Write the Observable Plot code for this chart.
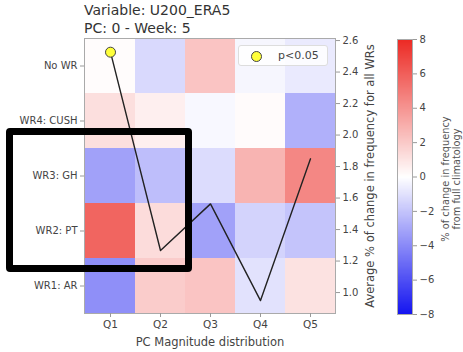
<!DOCTYPE html>
<html>
<head>
<meta charset="utf-8">
<script src="https://cdn.jsdelivr.net/npm/d3@7"></script>
<script src="https://cdn.jsdelivr.net/npm/@observablehq/plot@0.6"></script>
<style>
  html, body { margin: 0; padding: 0; background: #fff; }
  #wrap { position: relative; width: 463px; height: 352px; overflow: hidden; font-family: "DejaVu Sans", sans-serif; }
  #wrap > svg, #wrap > .layer { position: absolute; left: 0; top: 0; }
  .title { position: absolute; left: 84px; font-size: 14px; color: #333; white-space: nowrap; line-height: 1; }
  .legend { position: absolute; left: 238px; top: 45px; width: 90px; height: 21px; box-sizing: border-box;
            border: 1px solid #ddd; border-radius: 3px; background: rgba(255,255,255,0.85); }
  .legend .dot { position: absolute; left: 12px; top: 5px; width: 9px; height: 9px; border-radius: 50%;
                 background: #ffff3a; border: 1px solid #444; }
  .legend .lab { position: absolute; left: 39px; top: 3px; font-size: 11px; color: #444; }
  .box { position: absolute; left: 6px; top: 128px; width: 186px; height: 144px; box-sizing: border-box;
         border: 7px solid #000; border-radius: 4px; pointer-events: none; }
</style>
</head>
<body>
<div id="wrap">
  <div class="title" style="top:3px">Variable: U200_ERA5</div>
  <div class="title" style="top:21px">PC: 0 - Week: 5</div>
</div>
<script>
// ---- data ----
const quantiles = ["Q1", "Q2", "Q3", "Q4", "Q5"];
const regimes = ["No WR", "WR4: CUSH", "WR3: GH", "WR2: PT", "WR1: AR"];
// % change in frequency from full climatology, per regime across Q1..Q5
const noWR   = [0.1, -1.3, 2.2, -0.3, -0.7];
const wr4    = [1.2, 0.6, -0.25, 0.15, -2.7];
const wr3    = [-3.2, -2.2, -1.2, 2.8, 4.5];
const wr2    = [5.8, 1.3, -3.2, -1.5, -2.0];
const wr1    = [-3.8, 1.9, 2.2, -1.0, 1.1];
// average % change in frequency for all WRs (line, right axis)
const avgChange = [2.526, 1.267, 1.563, 0.949, 1.849];
const significant = [true, false, false, false, false];
const rightTicks = [1.0, 1.2, 1.4, 1.6, 1.8, 2.0, 2.2, 2.4, 2.6];
const cbarTicks = [-8, -6, -4, -2, 0, 2, 4, 6, 8];

const rowValues = [noWR, wr4, wr3, wr2, wr1];
const cells = [];
regimes.forEach((r, i) => quantiles.forEach((q, j) => cells.push({regime: r, q, value: rowValues[i][j]})));
const lineData = quantiles.map((q, j) => ({q, v: avgChange[j], sig: significant[j]}));

const colorScale = {type: "linear", domain: [-8, 0, 8], range: ["#1414f0", "#ffffff", "#ec2a24"], interpolate: "rgb"};
const W = 463, H = 352;
const fmtMinus = d => (d < 0 ? "\u2212" + Math.abs(d) : String(d));
const baseStyle = {fontFamily: "DejaVu Sans, sans-serif", fontSize: "10px", color: "#444", background: "transparent", overflow: "visible"};

const wrap = document.getElementById("wrap");

// heatmap
const heat = Plot.plot({
  width: W, height: H,
  marginLeft: 84, marginRight: 128, marginTop: 38, marginBottom: 39,
  style: baseStyle,
  x: {domain: quantiles, padding: 0},
  y: {domain: regimes, padding: 0},
  color: colorScale,
  marks: [
    Plot.cell(cells, {x: "q", y: "regime", fill: "value", inset: 0}),
    Plot.frame({stroke: "#aaa"}),
    Plot.axisX({tickSize: 4, tickPadding: 3, stroke: "#999", label: null, fontSize: 10.5}),
    Plot.axisX({ticks: [], tickSize: 0, label: "PC Magnitude distribution",
                labelAnchor: "center", labelArrow: "none", labelOffset: 32, fontSize: 11.5}),
    Plot.axisY({tickSize: 4, tickPadding: 3, stroke: "#999", label: null, fontSize: 10})
  ]
});
wrap.appendChild(heat);

// line overlay with right axis
const line = Plot.plot({
  width: W, height: H,
  marginLeft: 84, marginRight: 128, marginTop: 38, marginBottom: 39,
  style: baseStyle,
  x: {type: "point", domain: quantiles, padding: 0.5, axis: null},
  y: {domain: [0.867, 2.613]},
  marks: [
    Plot.line(lineData, {x: "q", y: "v", stroke: "#222", strokeWidth: 1.4}),
    Plot.dot(lineData.filter(d => d.sig), {x: "q", y: "v", r: 5, fill: "#ffff3a", stroke: "#444", strokeWidth: 1}),
    Plot.axisY({anchor: "right", ticks: rightTicks, tickFormat: d => d.toFixed(1), tickSize: 4, tickPadding: 3,
                stroke: "#999", fontSize: 10, label: null}),
    Plot.axisY({anchor: "right", ticks: [], tickSize: 0, fontSize: 11.5,
                label: "Average % of change in frequency for all WRs",
                labelAnchor: "center", labelArrow: "none", labelOffset: 38})
  ]
});
line.classList.add("layer");
wrap.appendChild(line);

// colorbar
const cbar = Plot.plot({
  width: W, height: H,
  marginLeft: 397, marginRight: 51, marginTop: 39, marginBottom: 38,
  style: baseStyle,
  x: {domain: [0, 1], axis: null},
  y: {domain: [-8, 8]},
  color: colorScale,
  marks: [
    Plot.raster({x1: 0, x2: 1, y1: -8, y2: 8, width: 1, height: 256, fill: (x, y) => y, imageRendering: "auto"}),
    Plot.frame({stroke: "#aaa"}),
    Plot.axisY({anchor: "right", ticks: cbarTicks, tickFormat: fmtMinus, tickSize: 4, tickPadding: 3,
                stroke: "#999", fontSize: 10, label: null})
  ]
});
cbar.classList.add("layer");
wrap.appendChild(cbar);

// colorbar label (rotated)
const cl = document.createElementNS("http://www.w3.org/2000/svg", "svg");
cl.setAttribute("width", W); cl.setAttribute("height", H);
cl.setAttribute("class", "layer");
cl.innerHTML = `<text transform="translate(451,179) rotate(-90)" text-anchor="middle" font-family="DejaVu Sans, sans-serif" font-size="9.8" fill="#555">
  <tspan x="0" dy="-0.2em">% of change in frequency</tspan><tspan x="0" dy="1.15em">from full climatology</tspan></text>`;
wrap.appendChild(cl);

// legend
const lg = document.createElement("div");
lg.className = "legend";
lg.innerHTML = `<div class="dot"></div><div class="lab">p&lt;0.05</div>`;
wrap.appendChild(lg);

// annotation box
const bx = document.createElement("div");
bx.className = "box";
wrap.appendChild(bx);
</script>
</body>
</html>
